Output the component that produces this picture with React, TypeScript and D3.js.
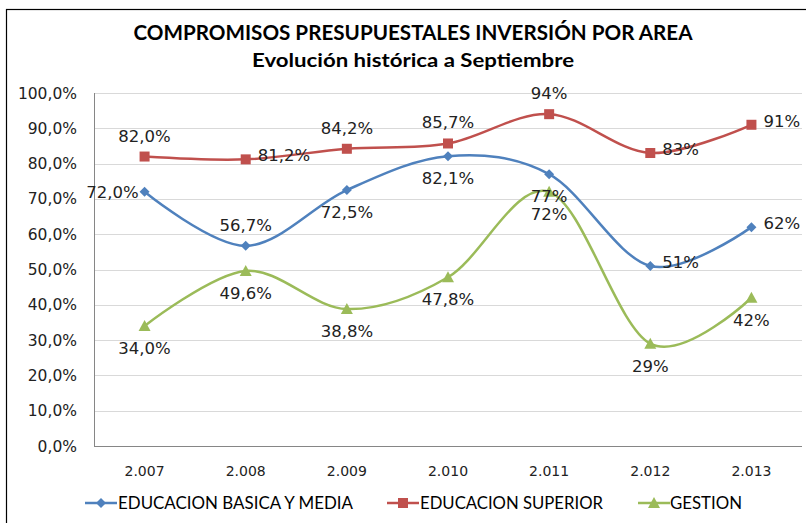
import React from "react";
import * as d3 from "d3";

const years = ["2.007", "2.008", "2.009", "2.010", "2.011", "2.012", "2.013"];
const basica = [72.0, 56.7, 72.5, 82.1, 77, 51, 62];
const superior = [82.0, 81.2, 84.2, 85.7, 94, 83, 91];
const gestion = [34.0, 49.6, 38.8, 47.8, 72, 29, 42];
const basicaLabels = ["72,0%", "56,7%", "72,5%", "82,1%", "77%", "51%", "62%"];
const superiorLabels = ["82,0%", "81,2%", "84,2%", "85,7%", "94%", "83%", "91%"];
const gestionLabels = ["34,0%", "49,6%", "38,8%", "47,8%", "72%", "29%", "42%"];
// label placement per point: l, r, a(bove), b(elow)
const basicaPos = ["l", "a", "b", "b", "b", "r", "r"];
const superiorPos = ["a", "r", "a", "a", "a", "r", "r"];
const gestionPos = ["b", "b", "b", "b", "b", "b", "b"];
const yTicks = [0, 10, 20, 30, 40, 50, 60, 70, 80, 90, 100];

const width = 806;
const height = 523;
const left = 94;
const right = 802;
const top = 93;
const bottom = 446;

const labelFont = "'DejaVu Sans', Verdana, sans-serif";
const titleFont = "Lato, 'Open Sans', sans-serif";

const App = () => {
  const x = d3.scaleBand().domain(years).range([left, right]);
  const y = d3.scaleLinear().domain([0, 100]).range([bottom, top]);
  const cx = (i: number) => (x(years[i]) as number) + x.bandwidth() / 2;

  const line = d3
    .line<number>()
    .x((_, i) => cx(i))
    .y((d) => y(d))
    .curve(d3.curveCardinal.tension(0));

  const series = [
    { name: "EDUCACION BASICA Y MEDIA", data: basica, labels: basicaLabels, pos: basicaPos, color: "#4F81BD", marker: "diamond" },
    { name: "EDUCACION SUPERIOR", data: superior, labels: superiorLabels, pos: superiorPos, color: "#C0504D", marker: "square" },
    { name: "GESTION", data: gestion, labels: gestionLabels, pos: gestionPos, color: "#9BBB59", marker: "triangle" },
  ];

  const marker = (type: string, px: number, py: number, color: string, key: string) => {
    if (type === "square")
      return <rect key={key} x={px - 5} y={py - 5} width={10} height={10} fill={color} />;
    if (type === "diamond")
      return <path key={key} d={`M${px},${py - 5}L${px + 5},${py}L${px},${py + 5}L${px - 5},${py}Z`} fill={color} />;
    return <path key={key} d={`M${px},${py - 6}L${px + 6},${py + 5}L${px - 6},${py + 5}Z`} fill={color} />;
  };

  const labelAttrs = (p: string, px: number, py: number) => {
    if (p === "l") return { x: px - 6, y: py + 6, anchor: "end" };
    if (p === "r") return { x: px + 12, y: py + 2, anchor: "start" };
    if (p === "a") return { x: px, y: py - 15, anchor: "middle" };
    return { x: px, y: py + 28, anchor: "middle" };
  };

  const legendItems = [
    { x: 85, textX: 118, w: 235 },
    { x: 387, textX: 420, w: 183 },
    { x: 638, textX: 670, w: 72 },
  ];

  return (
    <svg width={width} height={height} style={{ position: "absolute", left: 0, top: 0, background: "#fff" }}>
      <rect x={6.5} y={9.5} width={820} height={530} fill="#fff" stroke="#000" strokeWidth={1.2} />
      <text x={413} y={40} textAnchor="middle" fontFamily={titleFont} fontWeight="bold" fontSize={20} fill="#000"
        textLength={559} lengthAdjust="spacingAndGlyphs">
        COMPROMISOS PRESUPUESTALES INVERSIÓN POR AREA
      </text>
      <text x={413} y={67} textAnchor="middle" fontFamily={titleFont} fontWeight="bold" fontSize={19.5} fill="#000"
        textLength={322} lengthAdjust="spacingAndGlyphs">
        Evolución histórica a Septiembre
      </text>

      {yTicks.map((t) => (
        <g key={t}>
          {t > 0 && <line x1={left} x2={right} y1={Math.round(y(t)) + 0.5} y2={Math.round(y(t)) + 0.5} stroke="#D9D9D9" />}
          <text x={77} y={y(t) + 5.5} textAnchor="end" fontFamily={labelFont} fontSize={15.5} fill="#222">
            {t.toFixed(1).replace(".", ",") + "%"}
          </text>
        </g>
      ))}
      <line x1={left + 0.5} x2={left + 0.5} y1={top} y2={bottom} stroke="#868686" />
      <line x1={left} x2={right} y1={bottom + 0.5} y2={bottom + 0.5} stroke="#868686" />
      {years.map((yr, i) => (
        <text key={yr} x={cx(i)} y={476} textAnchor="middle" fontFamily={labelFont} fontSize={14} fill="#222">
          {yr}
        </text>
      ))}

      {series.map((s) => (
        <g key={s.name}>
          <path d={line(s.data) as string} fill="none" stroke={s.color} strokeWidth={2.5} />
          {s.data.map((v, i) => marker(s.marker, cx(i), y(v), s.color, s.name + i))}
        </g>
      ))}
      {series.map((s) =>
        s.data.map((v, i) => {
          const a = labelAttrs(s.pos[i], cx(i), y(v));
          return (
            <text key={s.name + "l" + i} x={a.x} y={a.y} textAnchor={a.anchor as any} fontFamily={labelFont} fontSize={16.5} fill="#222">
              {s.labels[i]}
            </text>
          );
        })
      )}

      {series.map((s, i) => (
        <g key={s.name + "leg"}>
          <line x1={legendItems[i].x} x2={legendItems[i].x + 32} y1={503} y2={503} stroke={s.color} strokeWidth={2.5} />
          {marker(s.marker, legendItems[i].x + 16, 503, s.color, s.name + "lm")}
          <text x={legendItems[i].textX} y={509} fontFamily={titleFont} fontSize={16.5} fill="#000"
            textLength={legendItems[i].w} lengthAdjust="spacingAndGlyphs">
            {s.name}
          </text>
        </g>
      ))}
    </svg>
  );
};

export default App;
